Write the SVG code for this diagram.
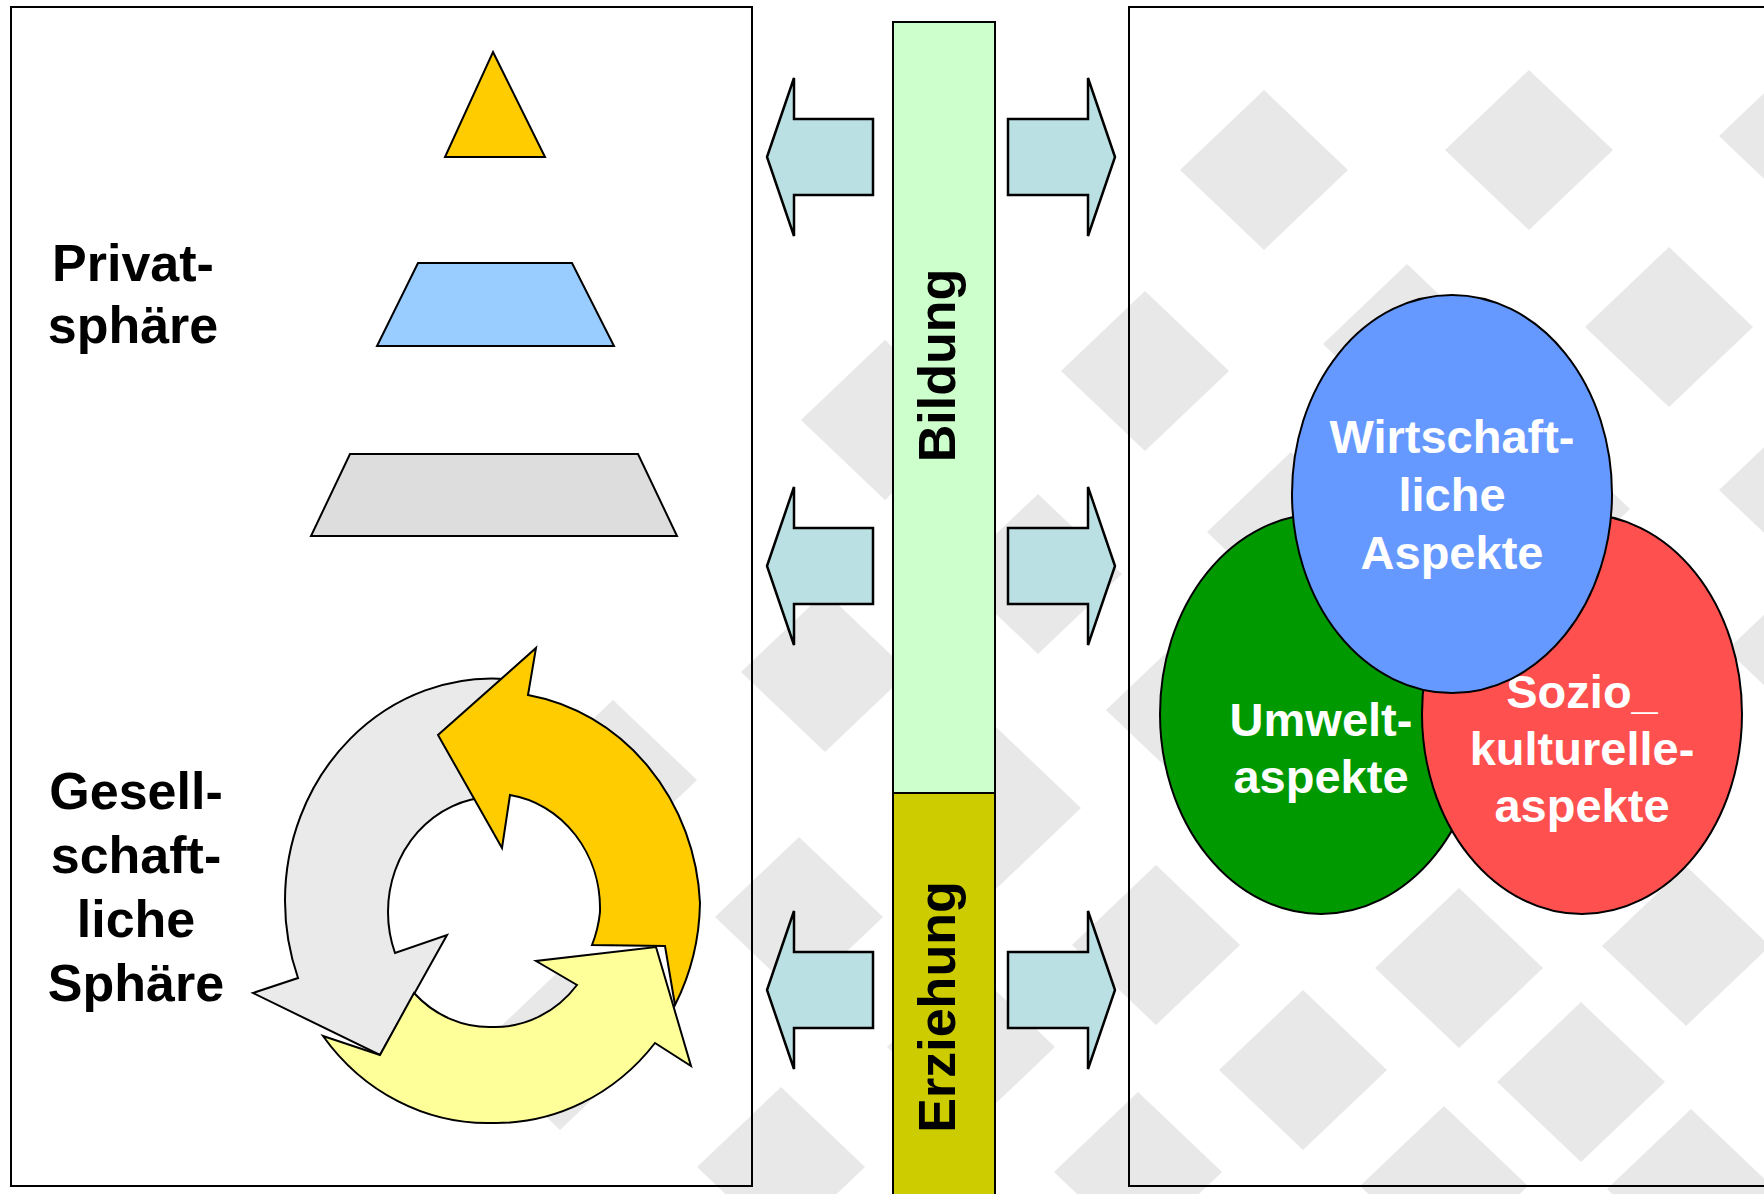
<svg xmlns="http://www.w3.org/2000/svg" width="1764" height="1194" viewBox="0 0 1764 1194">
<defs>
<style>
.bg{fill:#e8e8e8}
.panel{fill:none;stroke:#000;stroke-width:2}
.shape{stroke:#000;stroke-width:2;stroke-linejoin:miter}
.blk{stroke:#000;stroke-width:2.5;stroke-linejoin:miter;fill:#bbe0e3}
.t{font-family:"Liberation Sans",Arial,sans-serif;font-weight:bold;text-anchor:middle}
.lbl{font-size:52px;fill:#000}
.ell{font-size:47px;fill:#fff}
</style>
<polygon id="dia" points="0,-80 84,0 0,80 -84,0"/>
</defs>
<rect width="1764" height="1194" fill="#fff"/>
<g id="background" class="bg">
<use href="#dia" x="1264" y="170"/>
<use href="#dia" x="1529" y="150"/>
<use href="#dia" x="1803" y="136"/>
<use href="#dia" x="1145" y="371"/>
<use href="#dia" x="1407" y="344"/>
<use href="#dia" x="1669" y="327"/>
<use href="#dia" x="885" y="420"/>
<use href="#dia" x="1038" y="574"/>
<use href="#dia" x="1291" y="532"/>
<use href="#dia" x="1546" y="509"/>
<use href="#dia" x="1803" y="490"/>
<use href="#dia" x="825" y="672"/>
<use href="#dia" x="1190" y="710"/>
<use href="#dia" x="1811" y="650"/>
<use href="#dia" x="997" y="808"/>
<use href="#dia" x="613" y="780"/>
<use href="#dia" x="799" y="917"/>
<use href="#dia" x="1156" y="945"/>
<use href="#dia" x="1459" y="968"/>
<use href="#dia" x="1686" y="946"/>
<use href="#dia" x="971" y="1047"/>
<use href="#dia" x="560" y="1050"/>
<use href="#dia" x="1303" y="1070"/>
<use href="#dia" x="1581" y="1082"/>
<use href="#dia" x="781" y="1167"/>
<use href="#dia" x="1138" y="1172"/>
<use href="#dia" x="1444" y="1186"/>
<use href="#dia" x="1691" y="1189"/>
</g>
<g id="left-panel">
<rect class="panel" x="11" y="7" width="741" height="1179"/>
</g>
<g id="right-panel">
<path class="panel" d="M1780,7 H1129 V1186 H1780"/>
</g>
<g id="pyramid">
<polygon class="shape" fill="#ffcc00" points="493,52 545,157 445,157"/>
<polygon class="shape" fill="#99ccff" points="418,263 572,263 614,346 377,346"/>
<polygon class="shape" fill="#dddddd" points="350,454 638,454 677,536 311,536"/>
</g>
<g id="label-privat">
<text class="t lbl" x="133" y="281">Privat-</text>
<text class="t lbl" x="133" y="343">sphäre</text>
</g>
<g id="label-gesellschaft">
<text class="t lbl" x="136" y="809">Gesell-</text>
<text class="t lbl" x="136" y="873">schaft-</text>
<text class="t lbl" x="136" y="937">liche</text>
<text class="t lbl" x="136" y="1001">Sphäre</text>
</g>
<g id="cycle">
<path class="shape" fill="#eaeaea" d="M505,679 A207,222 0 0 0 285,901 A207,222 0 0 0 298,978 L253,993 L380,1055 L447,935 L395,953 A106,115 0 0 1 388,912 A106,115 0 0 1 490,797 Z"/>
<path class="shape" fill="#ffcc00" d="M528,695 A207,222 0 0 1 700,903 A207,222 0 0 1 675,1005 L665,946 L592,945 A106,115 0 0 0 600,912 A106,115 0 0 0 510,795 L502,848 L438,735 L536,648 Z"/>
<path class="shape" fill="#ffff99" d="M323,1036 L380,1055 L414,993 A106,115 0 0 0 494,1027 A106,115 0 0 0 577,985 L536,961 L656,947 L691,1066 L655,1043 A207,222 0 0 1 492,1123 A207,222 0 0 1 323,1036 Z"/>
</g>
<g id="bar-bildung">
<rect class="shape" fill="#ccffcc" x="893" y="22" width="102" height="771" stroke-width="2.5"/>
<text class="t lbl" transform="translate(955,365.5) rotate(-90)">Bildung</text>
</g>
<g id="bar-erziehung">
<rect class="shape" fill="#cccc00" x="893" y="793" width="102" height="420" stroke-width="2.5"/>
<text class="t lbl" transform="translate(955,1007) rotate(-90)">Erziehung</text>
</g>
<g id="connectors">
<polygon class="blk" points="767,157 794,78 794,119 873,119 873,195 794,195 794,236"/>
<polygon class="blk" points="767,566 794,487 794,528 873,528 873,604 794,604 794,645"/>
<polygon class="blk" points="767,990 794,911 794,952 873,952 873,1028 794,1028 794,1069"/>
<polygon class="blk" points="1115,157 1088,78 1088,119 1008,119 1008,195 1088,195 1088,236"/>
<polygon class="blk" points="1115,566 1088,487 1088,528 1008,528 1008,604 1088,604 1088,645"/>
<polygon class="blk" points="1115,990 1088,911 1088,952 1008,952 1008,1028 1088,1028 1088,1069"/>
</g>
<g id="umwelt">
<ellipse class="shape" fill="#009900" cx="1321" cy="714" rx="161" ry="200"/>
<text class="t ell" x="1321" y="736">Umwelt-</text>
<text class="t ell" x="1321" y="793">aspekte</text>
</g>
<g id="sozio">
<ellipse class="shape" fill="#ff5050" cx="1582" cy="714" rx="160" ry="200"/>
<text class="t ell" x="1582" y="708">Sozio_</text>
<text class="t ell" x="1582" y="765">kulturelle-</text>
<text class="t ell" x="1582" y="822">aspekte</text>
</g>
<g id="wirtschaft">
<ellipse class="shape" fill="#6699ff" cx="1452" cy="494" rx="160" ry="199"/>
<text class="t ell" x="1452" y="453">Wirtschaft-</text>
<text class="t ell" x="1452" y="511">liche</text>
<text class="t ell" x="1452" y="569">Aspekte</text>
</g>
</svg>
